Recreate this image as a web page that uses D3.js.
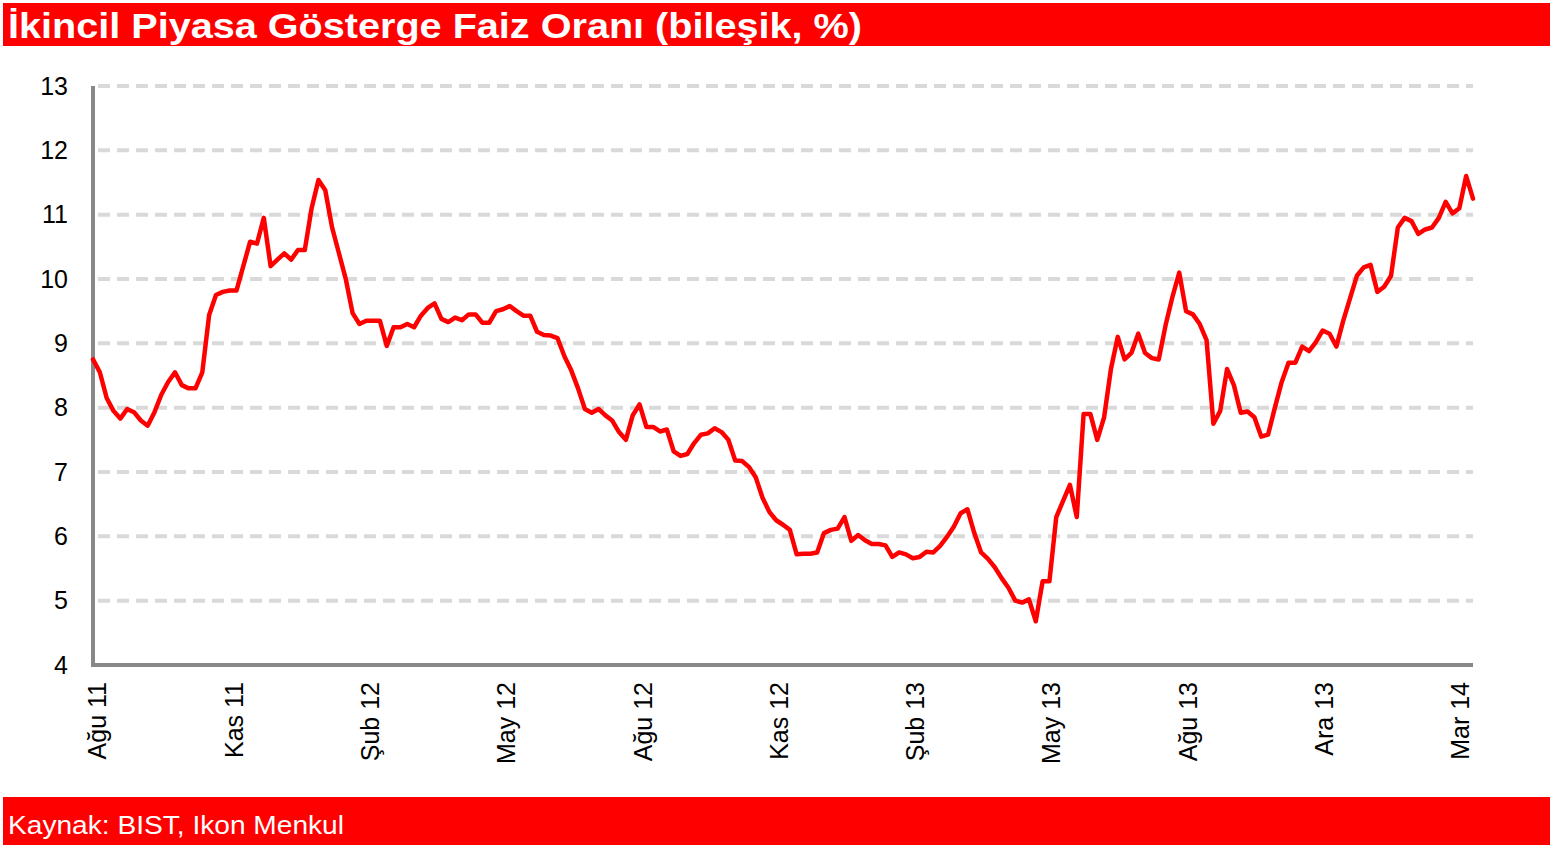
<!DOCTYPE html>
<html><head><meta charset="utf-8">
<script src="https://cdn.jsdelivr.net/npm/d3@7/dist/d3.min.js"></script>
<style>body{margin:0;background:#fff;}svg{display:block;font-family:"Liberation Sans",Arial,sans-serif;}</style>
</head><body><svg id="c" width="1550" height="847"></svg>
<script>
const titleText = "İkincil Piyasa Gösterge Faiz Oranı (bileşik, %)";
const sourceText = "Kaynak: BIST, Ikon Menkul";
const yTicks = [4,5,6,7,8,9,10,11,12,13];
const xTickLabels = ["Ağu 11","Kas 11","Şub 12","May 12","Ağu 12","Kas 12","Şub 13","May 13","Ağu 13","Ara 13","Mar 14"];
const xTickStart = 0.6, xTickEvery = 19.95;
const rates = [
8.75,8.55,8.15,7.95,7.83,7.98,7.93,7.8,7.72,7.93,
8.2,8.4,8.55,8.35,8.3,8.3,8.55,9.44,9.75,9.8,
9.82,9.82,10.2,10.58,10.55,10.95,10.2,10.3,10.4,10.3,
10.45,10.45,11.1,11.54,11.38,10.8,10.4,10.0,9.47,9.3,
9.35,9.35,9.35,8.96,9.25,9.25,9.3,9.25,9.43,9.55,
9.62,9.38,9.33,9.4,9.36,9.45,9.45,9.32,9.32,9.5,
9.53,9.58,9.5,9.43,9.43,9.18,9.13,9.12,9.08,8.8,
8.58,8.3,7.98,7.92,7.98,7.88,7.8,7.62,7.5,7.88,
8.05,7.7,7.7,7.63,7.66,7.32,7.25,7.28,7.45,7.58,
7.6,7.68,7.62,7.5,7.18,7.17,7.08,6.92,6.6,6.38,
6.25,6.18,6.1,5.72,5.73,5.73,5.75,6.05,6.1,6.12,
6.3,5.93,6.02,5.94,5.88,5.88,5.86,5.68,5.75,5.72,
5.66,5.68,5.76,5.75,5.85,5.99,6.15,6.36,6.42,6.05,
5.75,5.65,5.52,5.35,5.2,5.0,4.97,5.02,4.68,5.3,
5.3,6.3,6.55,6.8,6.3,7.9,7.9,7.5,7.85,8.6,
9.1,8.75,8.85,9.15,8.85,8.77,8.75,9.28,9.72,10.1,
9.5,9.45,9.3,9.05,7.75,7.95,8.6,8.35,7.92,7.94,
7.85,7.55,7.58,8.0,8.4,8.7,8.7,8.95,8.88,9.02,
9.2,9.15,8.95,9.35,9.7,10.05,10.18,10.22,9.8,9.88,
10.05,10.8,10.95,10.9,10.7,10.77,10.8,10.95,11.2,11.02,
11.1,11.6,11.25
];

const svg = d3.select("#c");
const W = 1550, H = 847;
const x0 = 93, x1 = 1473, yTop = 86, yBot = 665;

// title bar
svg.append("rect").attr("x",3).attr("y",3).attr("width",W-3).attr("height",43).attr("fill","#ff0000");
svg.append("text").attr("x",8).attr("y",38).attr("fill","#fff")
  .attr("font-size",35).attr("font-weight","bold")
  .attr("textLength",854).attr("lengthAdjust","spacingAndGlyphs").text(titleText);

// footer bar
svg.append("rect").attr("x",3).attr("y",797).attr("width",W-3).attr("height",48).attr("fill","#ff0000");
svg.append("text").attr("x",8).attr("y",834).attr("fill","#fff")
  .attr("font-size",26).attr("textLength",336).attr("lengthAdjust","spacingAndGlyphs").text(sourceText);

const x = d3.scaleLinear().domain([0, rates.length-1]).range([x0, x1]);
const y = d3.scaleLinear().domain([4,13]).range([yBot, yTop]);

// gridlines
svg.append("g").selectAll("line").data(yTicks.filter(d=>d>4)).join("line")
  .attr("x1",x0+5).attr("x2",x1).attr("y1",d=>y(d)).attr("y2",d=>y(d))
  .attr("stroke","#d9d9d9").attr("stroke-width",4).attr("stroke-dasharray","12,7");

// y axis
const yAxis = d3.axisLeft(y).tickValues(yTicks).tickSize(0).tickPadding(25);
const gy = svg.append("g").attr("transform",`translate(${x0},0)`).call(yAxis);
gy.select(".domain").remove();
gy.selectAll("text").attr("font-size",25).attr("fill","#000").attr("font-family","Liberation Sans, Arial, sans-serif");

// x axis labels
const xTickVals = xTickLabels.map((d,i)=>xTickStart + i*xTickEvery);
const xAxis = d3.axisBottom(x).tickValues(xTickVals).tickFormat((d,i)=>xTickLabels[i]).tickSize(0);
const gx = svg.append("g").attr("transform",`translate(0,${yBot})`).call(xAxis);
gx.select(".domain").remove();
gx.selectAll("text").attr("font-size",25).attr("fill","#000").attr("font-family","Liberation Sans, Arial, sans-serif")
  .attr("text-anchor","end").attr("transform","rotate(-90)").attr("x",-17).attr("y",0).attr("dy","0.35em");

// axis lines
svg.append("line").attr("x1",x0).attr("x2",x0).attr("y1",yTop).attr("y2",yBot+2).attr("stroke","#888").attr("stroke-width",4);
svg.append("line").attr("x1",x0-2).attr("x2",x1).attr("y1",yBot).attr("y2",yBot).attr("stroke","#888").attr("stroke-width",4);

// line
const line = d3.line().x((d,i)=>x(i)).y(d=>y(d));
svg.append("path").datum(rates).attr("d",line).attr("fill","none")
  .attr("stroke","#ff0000").attr("stroke-width",4.5).attr("stroke-linejoin","round").attr("stroke-linecap","round");
</script></body></html>
